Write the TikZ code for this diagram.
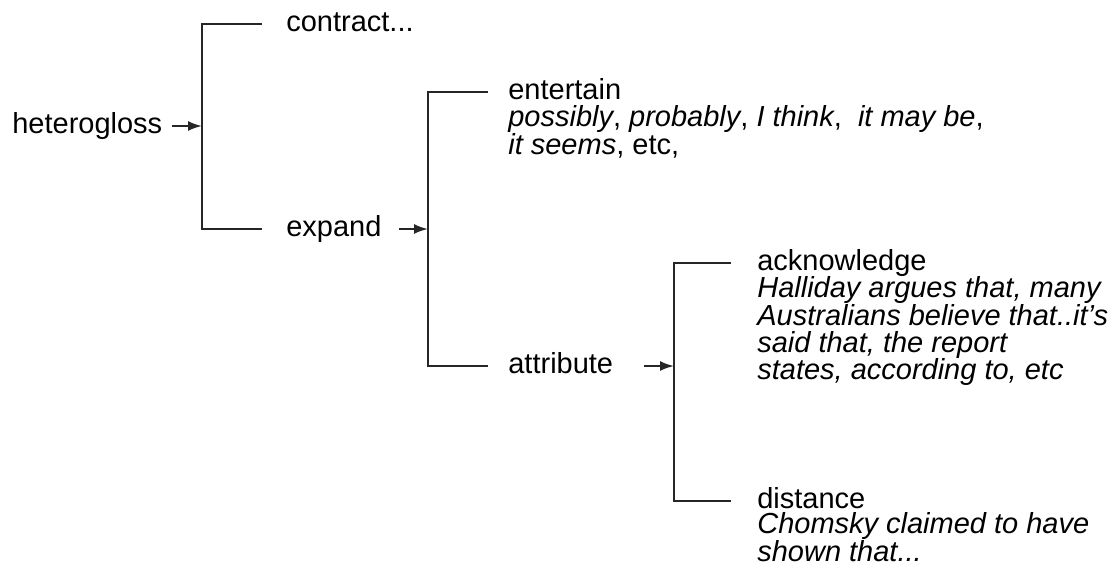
\documentclass[tikz,border=0pt]{standalone}
\usepackage{fontspec}
\setmainfont{Liberation Sans}
\usetikzlibrary{arrows.meta}
\tikzset{
  lbl/.style={anchor=west, inner sep=0pt, text height=9pt, text depth=0pt},
  eg/.style={anchor=north west, inner sep=0pt, align=left},
  brk/.style={line width=0.8pt, color=black!85},
  arr/.style={-{Latex[length=2.8mm,width=2mm]}, line width=1.1pt, color=black!85},
}
\begin{document}
\begin{tikzpicture}[x=0.02cm, y=-0.02cm, font=\fontsize{16.5}{15.6}\selectfont]
\useasboundingbox (0,0) rectangle (1111,565);
% heterogloss
\node[lbl] (het) at (12,126) {heterogloss};
\coordinate (j1) at (202,126);
\node[lbl] (con) at (286,24) {contract...};
\node[lbl] (exp) at (286,229) {expand};
\draw[arr] ([xshift=0.18cm]het.east) -- (j1);
\draw[brk] ([xshift=-0.48cm]con.west) -| (j1) |- ([xshift=-0.48cm]exp.west);
% expand
\coordinate (j2) at (428,229);
\node[lbl] (ent) at (508,92) {entertain};
\node[eg] (entx) at ([yshift=-0.1cm]ent.south west)
  {\textit{possibly}, \textit{probably}, \textit{I think}, \ \textit{it may be},\\
   \textit{it seems}, etc,};
\node[lbl] (att) at (508,366) {attribute};
\draw[arr] ([xshift=0.34cm]exp.east) -- (j2);
\draw[brk] ([xshift=-0.4cm]ent.west) -| (j2) |- ([xshift=-0.4cm]att.west);
% attribute
\coordinate (j3) at (674,366);
\node[lbl] (ack) at (757,263) {acknowledge};
\node[eg] (ackx) at ([yshift=-0.1cm]ack.south west)
  {\textit{Halliday argues that, many}\\
   \textit{Australians believe that..it's}\\
   \textit{said that, the report}\\
   \textit{states, according to, etc}};
\node[lbl] (dis) at (757,501) {distance};
\node[eg] (disx) at ([yshift=-0.06cm]dis.south west)
  {\textit{Chomsky claimed to have}\\
   \textit{shown that...}};
\draw[arr] ([xshift=0.62cm]att.east) -- (j3);
\draw[brk] ([xshift=-0.52cm]ack.west) -| (j3) |- ([xshift=-0.52cm]dis.west);
\end{tikzpicture}
\end{document}
